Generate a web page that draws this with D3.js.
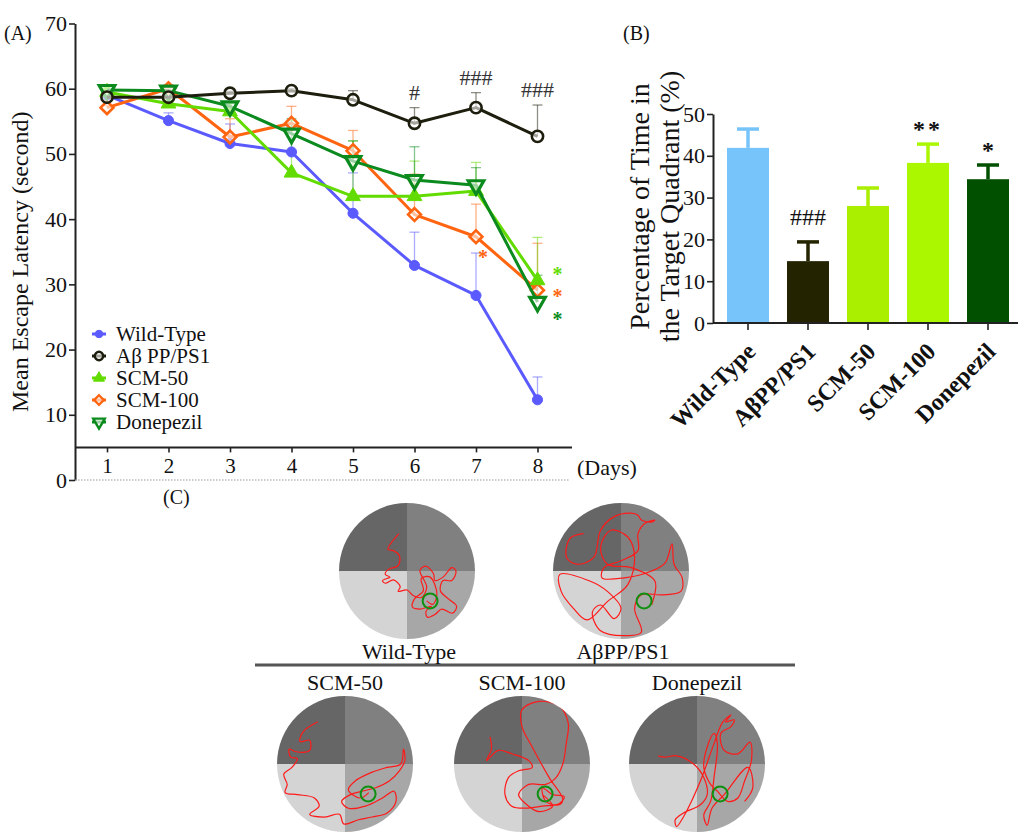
<!DOCTYPE html>
<html>
<head>
<meta charset="utf-8">
<script src="https://cdn.jsdelivr.net/npm/d3@7"></script>
<style>
  body { margin: 0; background: #fff; }
  text { font-family: "Liberation Serif", "Times New Roman", serif; }
</style>
</head>
<body>
<svg id="fig" width="1024" height="838"></svg>
<script>
// === panel A data: mean escape latency per day ===
const days = [1, 2, 3, 4, 5, 6, 7, 8];
const seriesNames = ["Wild-Type", "Aβ PP/PS1", "SCM-50", "SCM-100", "Donepezil"];
const wtMean = [59.0, 55.1, 51.6, 50.3, 40.9, 32.9, 28.3, 12.3];
const wtErr = [0.4, 1.2, 3.0, 3.8, 6.2, 5.1, 6.5, 3.5];
const appMean = [58.7, 58.7, 59.3, 59.7, 58.3, 54.7, 57.1, 52.7];
const appErr = [0.3, 0.3, 0.3, 0.3, 1.4, 2.4, 2.3, 4.8];
const scm50Mean = [59.5, 57.7, 56.5, 47.1, 43.5, 43.5, 44.3, 30.6];
const scm50Err = [0.3, 1.0, 0.6, 8.0, 8.5, 5.4, 4.4, 6.6];
const scm100Mean = [57.1, 60.0, 52.6, 54.7, 50.5, 40.7, 37.3, 29.1];
const scm100Err = [0.3, 0.6, 2.8, 2.6, 3.1, 6.2, 5.0, 7.2];
const donMean = [59.8, 59.7, 57.3, 53.1, 48.9, 46.0, 45.2, 27.3];
const donErr = [0.3, 0.3, 0.4, 2.3, 3.1, 5.1, 2.7, 4.1];
const appMarks = ["", "", "", "", "", "#", "###", "###"];
// coloured stars: series index, day, level (value units)
const starSeries = [3, 2, 3, 4];
const starDays = [7, 8, 8, 8];
const starLevels = [34.6, 32.0, 28.6, 25.1];

// === panel B data: time in target quadrant ===
const barGroups = ["Wild-Type", "AβPP/PS1", "SCM-50", "SCM-100", "Donepezil"];
const barMeans = [41.9, 14.8, 28.0, 38.3, 34.4];
const barErrs = [4.5, 4.6, 4.3, 4.5, 3.4];
const barMarks = ["", "###", "", "**", "*"];

// === panel C data: swim traces, normalised to pool radius ===
const mazeNames = ["Wild-Type", "AβPP/PS1", "SCM-50", "SCM-100", "Donepezil"];
const platform = [0.34, 0.44];
const wtPath = [[-0.12,-0.55],[-0.28,-0.32],[-0.20,-0.30],[-0.11,-0.22],[-0.13,-0.08],[-0.28,-0.02],[-0.32,0.05],[-0.25,0.09],[-0.36,0.14],[-0.32,0.18],[-0.20,0.13],[-0.10,0.23],[-0.13,0.30],[0.0,0.28],[0.09,0.36],[0.21,0.39],[0.29,0.24],[0.19,-0.01],[0.28,-0.07],[0.39,0.04],[0.41,0.14],[0.53,0.09],[0.66,-0.05],[0.72,0.0],[0.66,0.14],[0.53,0.14],[0.49,0.29],[0.61,0.41],[0.73,0.52],[0.67,0.62],[0.51,0.56],[0.41,0.64],[0.30,0.68],[0.28,0.59],[0.36,0.52],[0.19,0.56],[0.08,0.53],[0.11,0.41],[0.24,0.29],[0.21,0.11],[0.34,0.09],[0.44,0.34],[0.38,0.49],[0.29,0.44]];
const appPath = [[-0.55,-0.55],[-0.75,-0.48],[-0.80,-0.20],[-0.65,-0.10],[-0.40,-0.20],[-0.30,-0.60],[-0.10,-0.80],[0.15,-0.85],[0.25,-0.82],[0.30,-0.75],[0.45,-0.72],[0.50,-0.75],[0.35,-0.70],[0.25,-0.55],[0.25,-0.30],[0.0,-0.15],[-0.25,-0.05],[-0.28,0.10],[0.05,0.10],[0.45,0.0],[0.65,-0.12],[0.75,-0.40],[0.78,-0.10],[0.90,0.10],[0.88,0.30],[0.60,0.35],[0.30,0.35],[0.20,0.55],[0.30,0.90],[0.10,0.95],[-0.30,0.88],[-0.42,0.60],[-0.30,0.50],[-0.10,0.70],[0.0,0.55],[-0.20,0.30],[-0.45,0.15],[-0.90,0.05],[-0.88,0.30],[-0.70,0.55],[-0.50,0.72],[-0.20,0.45],[0.10,0.20],[0.20,-0.20],[0.10,-0.50],[-0.15,-0.60],[-0.30,-0.35],[-0.20,-0.10],[0.15,-0.05],[0.50,0.15],[0.45,0.50]];
const scm50Path = [[-0.40,-0.62],[-0.62,-0.47],[-0.66,-0.33],[-0.52,-0.35],[-0.52,-0.20],[-0.72,-0.18],[-0.82,-0.22],[-0.80,-0.10],[-0.70,-0.08],[-0.78,0.05],[-0.90,0.15],[-0.85,0.30],[-0.88,0.42],[-0.70,0.45],[-0.45,0.50],[-0.38,0.62],[-0.52,0.74],[-0.30,0.78],[-0.08,0.74],[-0.02,0.88],[0.20,0.82],[0.40,0.78],[0.62,0.72],[0.75,0.55],[0.72,0.40],[0.55,0.50],[0.30,0.62],[0.05,0.65],[-0.05,0.55],[0.08,0.45],[0.25,0.40],[0.45,0.35],[0.65,0.25],[0.80,0.10],[0.88,-0.05],[0.86,-0.22],[0.82,0.0],[0.62,0.05],[0.40,0.12],[0.15,0.25],[0.05,0.38],[0.22,0.50],[0.35,0.42]];
const scm100Path = [[-0.47,-0.40],[-0.45,-0.22],[-0.52,-0.05],[-0.35,-0.20],[-0.15,-0.15],[0.10,-0.05],[0.15,0.05],[-0.05,0.10],[-0.20,0.20],[-0.25,0.45],[-0.15,0.62],[0.05,0.65],[0.30,0.62],[0.55,0.58],[0.62,0.48],[0.45,0.45],[0.30,0.35],[0.35,0.55],[0.55,0.60],[0.60,0.52],[0.40,0.20],[0.15,-0.25],[0.0,-0.55],[0.0,-0.80],[0.25,-0.92],[0.55,-0.85],[0.68,-0.60],[0.65,-0.30],[0.60,0.0],[0.50,0.20],[0.35,0.30],[0.10,0.30],[-0.05,0.45],[0.05,0.58],[0.25,0.70],[0.45,0.62],[0.30,0.45]];
const donPath = [[-0.57,-0.12],[-0.48,-0.10],[-0.30,-0.12],[-0.05,0.0],[0.10,0.20],[0.15,0.45],[0.05,0.60],[-0.20,0.72],[-0.32,0.82],[-0.30,0.92],[-0.20,0.78],[0.05,0.25],[0.25,-0.30],[0.38,-0.62],[0.50,-0.72],[0.42,-0.62],[0.55,-0.65],[0.50,-0.55],[0.35,-0.45],[0.40,-0.20],[0.60,-0.15],[0.78,-0.32],[0.80,-0.05],[0.70,0.25],[0.60,0.50],[0.45,0.55],[0.30,0.40],[0.20,0.30],[0.10,0.05],[0.15,-0.25],[0.25,-0.45],[0.30,-0.30],[0.25,0.20],[0.20,0.55],[0.10,0.75],[0.15,0.90],[0.22,0.65],[0.40,0.45],[0.75,0.05],[0.82,0.35],[0.70,0.55]];

(() => {
  const svg = d3.select("#fig");
  const ink = "#111";

  function styleAxis(g, fontSize) {
    g.selectAll(".domain").attr("stroke", "#222").attr("stroke-width", 2);
    g.selectAll(".tick line").attr("stroke", "#222").attr("stroke-width", 1.6);
    g.selectAll(".tick text")
      .attr("font-family", null)
      .style("font-size", fontSize + "px")
      .attr("fill", ink);
  }

  // ---------- (A) line chart ----------
  function drawPanelA() {
    const g = svg.append("g");
    const x = d3.scaleLinear().domain([1, 8]).range([107, 537.5]);
    const y = d3.scaleLinear().domain([0, 70]).range([480, 23.5]);
    const axisX = 75, axisEnd = 572;

    const series = [
      { name: seriesNames[0], mean: wtMean, err: wtErr, color: "#5a5aff", sym: d3.symbolCircle, size: 80, open: false, rot: 0, sw: 1 },
      { name: seriesNames[1], mean: appMean, err: appErr, color: "#1e1e0e", sym: d3.symbolCircle, size: 100, open: true, rot: 0, sw: 2.6 },
      { name: seriesNames[2], mean: scm50Mean, err: scm50Err, color: "#62dc00", sym: d3.symbolTriangle, size: 95, open: false, rot: 0, sw: 1 },
      { name: seriesNames[3], mean: scm100Mean, err: scm100Err, color: "#ff6410", sym: d3.symbolDiamond2, size: 105, open: true, rot: 0, sw: 2.6 },
      { name: seriesNames[4], mean: donMean, err: donErr, color: "#0b8a1e", sym: d3.symbolTriangle, size: 105, open: true, rot: 180, sw: 3.2 },
    ];
    const drawOrder = [0, 3, 2, 4, 1];

    g.append("text").attr("x", 4).attr("y", 40).attr("fill", ink).style("font-size", "20px").text("(A)");

    // y axis
    const gy = g.append("g").attr("transform", `translate(${axisX},0)`)
      .call(d3.axisLeft(y).tickValues(d3.range(0, 71, 10)).tickSize(6).tickSizeOuter(0).tickPadding(2));
    styleAxis(gy, 22);

    // x axis drawn at y = 5 (broken axis look)
    const gx = g.append("g").attr("transform", `translate(0,${y(5)})`)
      .call(d3.axisBottom(x).tickValues(days).tickFormat(d3.format("d")).tickSize(5).tickSizeOuter(0).tickPadding(6));
    gx.select(".domain").remove();
    styleAxis(gx, 21);
    gx.append("line").attr("x1", axisX).attr("x2", axisEnd).attr("stroke", "#222").attr("stroke-width", 2);

    // dotted zero line
    g.append("line").attr("x1", axisX).attr("x2", axisEnd - 2)
      .attr("y1", y(0)).attr("y2", y(0))
      .attr("stroke", "#999").attr("stroke-width", 1.2).attr("stroke-dasharray", "1.5,1.5");

    g.append("text").attr("x", 577).attr("y", y(5) + 28).attr("fill", ink).style("font-size", "22px").text("(Days)");

    g.append("text")
      .attr("transform", `translate(28,${(y(70) + y(0)) / 2 + 10}) rotate(-90)`)
      .attr("text-anchor", "middle").attr("fill", ink).style("font-size", "24px")
      .text("Mean Escape Latency (second)");

    // error bars
    drawOrder.forEach((si) => {
      const s = series[si];
      const eg = g.append("g").attr("stroke", s.color).attr("stroke-opacity", 0.5).attr("stroke-width", 1.3);
      days.forEach((d, i) => {
        const top = y(s.mean[i] + s.err[i]);
        eg.append("line").attr("x1", x(d)).attr("x2", x(d)).attr("y1", y(s.mean[i])).attr("y2", top);
        eg.append("line").attr("x1", x(d) - 5).attr("x2", x(d) + 5).attr("y1", top).attr("y2", top);
      });
    });

    const line = d3.line().x((d, i) => x(days[i])).y((d) => y(d));

    drawOrder.forEach((si) => {
      const s = series[si];
      g.append("path").datum(s.mean).attr("d", line)
        .attr("fill", "none").attr("stroke", s.color).attr("stroke-width", 3)
        .attr("stroke-linejoin", "round");
      g.append("g").selectAll("path").data(s.mean).enter().append("path")
        .attr("d", d3.symbol().type(s.sym).size(s.size))
        .attr("transform", (d, i) => `translate(${x(days[i])},${y(d)}) rotate(${s.rot})`)
        .attr("fill", s.open ? "#fff" : s.color)
        .attr("fill-opacity", s.open ? 0.6 : 1)
        .attr("stroke", s.color).attr("stroke-width", s.sw);
    });

    // significance marks vs wild-type
    g.append("g").selectAll("text").data(appMarks).enter().append("text")
      .attr("x", (d, i) => x(days[i]))
      .attr("y", (d, i) => y(appMean[i] + appErr[i] + 2.4))
      .attr("dy", "0.35em").attr("text-anchor", "middle")
      .style("font-size", "22px").attr("fill", "#333")
      .text((d) => d);

    starSeries.forEach((si, k) => {
      const dx = starDays[k] === 8 ? 20 : 7;
      g.append("text")
        .attr("x", x(starDays[k]) + dx).attr("y", y(starLevels[k]) + 10)
        .attr("text-anchor", "middle").style("font-size", "20px").style("font-weight", "bold")
        .attr("fill", series[si].color).text("*");
    });

    // legend
    const lg = g.append("g");
    series.forEach((s, i) => {
      const ly = 334 + i * 22;
      lg.append("line").attr("x1", 92).attr("x2", 106).attr("y1", ly).attr("y2", ly)
        .attr("stroke", s.color).attr("stroke-width", 3);
      lg.append("path").attr("d", d3.symbol().type(s.sym).size(s.size * 0.55))
        .attr("transform", `translate(99,${ly}) rotate(${s.rot})`)
        .attr("fill", s.open ? "#fff" : s.color).attr("fill-opacity", s.open ? 0.6 : 1)
        .attr("stroke", s.color).attr("stroke-width", Math.min(s.sw, 2.4));
      lg.append("text").attr("x", 116).attr("y", ly).attr("dy", "0.35em")
        .attr("fill", ink).style("font-size", "21px").text(s.name);
    });
  }

  // ---------- (B) bar chart ----------
  function drawPanelB() {
    const g = svg.append("g");
    const barColors = ["#77c4fa", "#232300", "#aaee00", "#aaf700", "#005000"];
    const xb = d3.scaleBand().domain(barGroups).range([718, 1018]).paddingInner(0.3).paddingOuter(0.15);
    const yb = d3.scaleLinear().domain([0, 50]).range([323, 114]);
    const axisX = 713;

    g.append("text").attr("x", 623).attr("y", 40).attr("fill", ink).style("font-size", "20px").text("(B)");

    g.append("g").selectAll("line").data(barGroups).enter().append("line")
      .attr("x1", (d) => xb(d) + xb.bandwidth() / 2).attr("x2", (d) => xb(d) + xb.bandwidth() / 2)
      .attr("y1", (d, i) => yb(barMeans[i])).attr("y2", (d, i) => yb(barMeans[i] + barErrs[i]))
      .attr("stroke", (d, i) => barColors[i]).attr("stroke-width", 3.5);
    g.append("g").selectAll("line").data(barGroups).enter().append("line")
      .attr("x1", (d) => xb(d) + xb.bandwidth() / 2 - 11).attr("x2", (d) => xb(d) + xb.bandwidth() / 2 + 11)
      .attr("y1", (d, i) => yb(barMeans[i] + barErrs[i])).attr("y2", (d, i) => yb(barMeans[i] + barErrs[i]))
      .attr("stroke", (d, i) => barColors[i]).attr("stroke-width", 3.5);

    g.append("g").selectAll("rect").data(barGroups).enter().append("rect")
      .attr("x", (d) => xb(d)).attr("width", xb.bandwidth())
      .attr("y", (d, i) => yb(barMeans[i])).attr("height", (d, i) => yb(0) - yb(barMeans[i]))
      .attr("fill", (d, i) => barColors[i]);

    const gy = g.append("g").attr("transform", `translate(${axisX},0)`)
      .call(d3.axisLeft(yb).tickValues(d3.range(0, 51, 10)).tickSize(6).tickSizeOuter(0).tickPadding(2));
    styleAxis(gy, 22);

    const gx = g.append("g").attr("transform", `translate(0,${yb(0)})`)
      .call(d3.axisBottom(xb).tickSize(7).tickSizeOuter(0));
    gx.select(".domain").remove();
    gx.selectAll(".tick text").remove();
    styleAxis(gx, 22);
    gx.append("line").attr("x1", axisX).attr("x2", 1018).attr("stroke", "#222").attr("stroke-width", 2);

    g.append("g").selectAll("text").data(barGroups).enter().append("text")
      .attr("transform", (d) => `translate(${xb(d) + xb.bandwidth() / 2 + 3},${yb(0) + 24}) rotate(-45)`)
      .attr("text-anchor", "end").attr("dy", "0.35em").attr("fill", ink)
      .style("font-size", "24px").style("font-weight", "bold")
      .text((d) => d);

    g.append("g").selectAll("text").data(barMarks).enter().append("text")
      .attr("x", (d, i) => xb(barGroups[i]) + xb.bandwidth() / 2)
      .attr("y", (d, i) => yb(barMeans[i] + barErrs[i] + 6))
      .attr("dy", (d) => (d === "###" ? "0.35em" : "0.75em"))
      .attr("text-anchor", "middle").attr("fill", ink).style("font-size", "24px")
      .style("font-weight", (d) => (d === "###" ? "normal" : "bold"))
      .style("letter-spacing", (d) => (d === "**" ? "3px" : "0px"))
      .text((d) => d);

    const yl = g.append("text").attr("transform", `translate(649,${(yb(50) + yb(0)) / 2 - 12}) rotate(-90)`)
      .attr("text-anchor", "middle").attr("fill", ink).style("font-size", "28px");
    yl.append("tspan").attr("x", 0).attr("dy", 0).text("Percentage of Time in");
    yl.append("tspan").attr("x", 0).attr("dy", 30).text("the Target Quadrant (%)");
  }

  // ---------- (C) swim paths ----------
  function drawPanelC() {
    const g = svg.append("g");
    const r = 68;
    const centres = [[407, 571], [621, 571], [345, 764], [522, 764], [697, 764]];
    const paths = [wtPath, appPath, scm50Path, scm100Path, donPath];
    const quadColors = ["#808080", "#a7a7a7", "#d4d4d4", "#666666"]; // TR, BR, BL, TL
    const arc = d3.arc().innerRadius(0).outerRadius(r);

    g.append("text").attr("x", 163).attr("y", 504).attr("fill", ink).style("font-size", "20px").text("(C)");
    g.append("line").attr("x1", 255).attr("x2", 795).attr("y1", 665).attr("y2", 665)
      .attr("stroke", "#555").attr("stroke-width", 3);

    centres.forEach(([cx, cy], k) => {
      const mx = d3.scaleLinear().domain([-1, 1]).range([cx - r, cx + r]);
      const my = d3.scaleLinear().domain([-1, 1]).range([cy - r, cy + r]);
      const pg = g.append("g");

      pg.selectAll("path.q").data(d3.range(4)).enter().append("path").attr("class", "q")
        .attr("d", (q) => arc({ startAngle: (q * Math.PI) / 2, endAngle: ((q + 1) * Math.PI) / 2 }))
        .attr("transform", `translate(${cx},${cy})`)
        .attr("fill", (q) => quadColors[q]);

      pg.append("clipPath").attr("id", "pool" + k)
        .append("circle").attr("cx", cx).attr("cy", cy).attr("r", r);

      pg.append("path").datum(paths[k])
        .attr("d", d3.line().x((p) => mx(p[0])).y((p) => my(p[1])).curve(d3.curveCatmullRom.alpha(0.5)))
        .attr("clip-path", `url(#pool${k})`)
        .attr("fill", "none").attr("stroke", "#ff1a1a").attr("stroke-width", 1.2);

      pg.append("circle").attr("cx", mx(platform[0])).attr("cy", my(platform[1]))
        .attr("r", r * 0.11).attr("fill", "none").attr("stroke", "#109010").attr("stroke-width", 2);

      const top = k < 2;
      g.append("text").attr("x", cx + (top ? 2 : 0)).attr("y", top ? cy + r + 12 : cy - r - 14)
        .attr("dy", "0.35em").attr("text-anchor", "middle").attr("fill", ink).style("font-size", "22px")
        .text(mazeNames[k]);
    });
  }

  drawPanelA();
  drawPanelB();
  drawPanelC();
})();
</script>
</body>
</html>
